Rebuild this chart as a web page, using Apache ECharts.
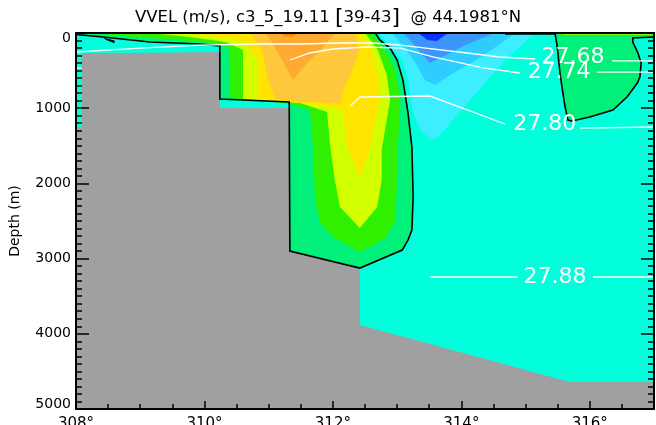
<!DOCTYPE html>
<html><head><meta charset="utf-8">
<script src="https://cdn.jsdelivr.net/npm/echarts@6/dist/echarts.min.js"></script>
<style>html,body{margin:0;padding:0;background:#fff}#c{width:656px;height:425px}</style>
</head><body><div id="c"></div>
<script>
// ---------- axes ----------
const lonRange = [308, 317];
const depthRange = [0, 5000];
const lonStep = 2;
const depthStep = 1000;

// ---------- bathymetry (lon, depth m) ----------
const land = [[308.00,5000],[308.00,1250],[308.09,1250],[308.09,266],[309.15,262],[310.24,253],[310.24,998],[311.33,998],[311.33,2900],[312.42,3130],[312.42,3884],[315.69,4642],[317.00,4642],[317.00,5000]];

// ---------- velocity band polygons (lon, depth m), value >= / <= level ----------
const oceanBox = [[308,0],[317,0],[317,5000],[308,5000]];           // 0 .. -0.01 m/s
const velP000 = [[308.00,20],[308.42,53],[309.15,120],[309.93,146],[310.24,173],[310.24,878],[311.32,918],[311.33,2899],[312.42,3126],[313.08,2886],[313.17,2753],[313.23,2620],[313.25,2181],[313.23,1516],[313.17,1064],[313.09,625],[313.00,359],[312.89,200],[312.73,93],[312.66,0],[308.00,0]];
const velP000Lobe = [[315.46,27],[315.49,160],[315.54,559],[315.61,958],[315.66,1157],[315.72,1170],[316.00,1117],[316.36,1024],[316.58,851],[316.74,665],[316.78,585],[316.80,399],[316.75,266],[316.67,120],[316.67,66],[317.00,53],[317.00,0],[315.46,0]];
const velP000Strip = [[314.68,0],[315.46,0],[315.46,13],[314.68,13]];
const velP010 = [[308.30,0],[312.61,0],[312.81,226],[312.97,492],[313.05,891],[313.01,1556],[313.00,1955],[312.97,2487],[312.84,2713],[312.42,2913],[312.00,2713],[311.80,2527],[311.72,2181],[311.69,1516],[311.64,1024],[311.36,944],[310.40,865],[310.40,359],[310.37,186],[309.93,120],[309.15,66],[308.53,27]];
const velP010Top = [[315.52,0],[317.00,0],[317.00,40],[315.52,40]];
const velP020 = [[309.15,0],[312.50,0],[312.70,226],[312.84,559],[312.89,891],[312.76,1556],[312.76,1955],[312.69,2314],[312.42,2594],[312.11,2314],[312.03,1955],[311.96,1516],[311.91,1050],[311.49,930],[310.60,878],[310.60,226],[310.33,120],[309.78,53]];
const velP020Top = [[315.60,0],[317.00,0],[317.00,20],[315.60,20]];
const velP030 = [[309.78,0],[312.42,0],[312.61,226],[312.70,559],[312.73,891],[312.58,1516],[312.42,1915],[312.22,1516],[312.16,1024],[311.80,958],[310.82,878],[310.82,359],[310.63,120],[310.24,53],[309.78,13]];
const velP040 = [[310.71,0],[312.34,0],[312.42,226],[312.27,559],[312.16,758],[312.11,931],[311.49,918],[311.10,878],[310.99,625],[310.90,226]];
const velP050 = [[310.94,0],[312.03,0],[311.88,160],[311.57,426],[311.38,625],[311.21,359],[311.05,120]];
const velP060 = [[311.18,0],[311.49,0],[311.36,53],[311.24,40]];
const velN010 = [[312.71,0],[315.15,0],[314.68,359],[314.14,891],[313.67,1357],[313.54,1430],[313.36,1290],[313.25,1064],[313.17,625],[313.08,359],[312.94,226],[312.81,93]];
const velN020 = [[312.92,0],[314.84,0],[314.29,333],[313.82,559],[313.59,692],[313.43,625],[313.28,386],[313.12,200]];
const velN030 = [[313.09,0],[314.52,0],[314.06,160],[313.67,333],[313.51,399],[313.36,253],[313.20,93]];
const velN040 = [[313.33,0],[313.79,0],[313.62,106],[313.47,93]];

// ---------- zero-velocity contour ----------
const zeroMain = [[308.00,20],[308.42,53],[309.15,120],[309.93,146],[310.24,173],[310.24,878],[311.32,918],[311.33,2899],[312.42,3126],[313.08,2886],[313.17,2753],[313.23,2620],[313.25,2181],[313.23,1516],[313.17,1064],[313.09,625],[313.00,359],[312.89,200],[312.73,93],[312.66,0]];
const zeroTop = [[314.68,13],[315.46,13]];
const zeroLobe = [[315.46,13],[315.49,160],[315.54,559],[315.61,958],[315.66,1157],[315.72,1170],[316.00,1117],[316.36,1024],[316.58,851],[316.74,665],[316.78,585],[316.80,399],[316.75,266],[316.67,120],[316.67,66],[317.00,53]];
const zeroBlob = [[308.42,60],[308.60,100],[308.60,135],[308.46,90]];

// ---------- isopycnals (sigma) ----------
const sig2768 = [[[308.00,253],[309.00,200],[309.93,160],[310.87,146],[311.49,146],[312.11,133],[312.62,133],[313.05,160],[314.09,266],[314.60,319],[315.15,346]],[[316.35,372],[317,372]]];
const sig2774 = [[[308.00,465],[308.09,465]],[[311.33,359],[311.64,266],[312.00,213],[312.53,186],[313.05,200],[313.56,319],[314.34,465],[314.91,532]],[[316.11,519],[317,519]]];
const sig2780 = [[[312.27,971],[312.42,851],[313.51,838],[314.68,1210]],[[315.85,1264],[317,1250]]];
const sig2788 = [[[313.51,3245],[314.87,3245]],[[316.05,3245],[317,3245]]];
const sigLabels = [['27.68',315.74,319],['27.74',315.52,519],['27.80',315.30,1210],['27.88',315.46,3245]];

// ---------- styles ----------
const bandColors = {'-0.04':'#0A32FF','-0.03':'#3C94FF','-0.02':'#2ECCFF','-0.01':'#3CEEFF','-0.005':'#00FFDA',
  '0':'#00F07A','0.01':'#2EF000','0.02':'#D2FF00','0.03':'#FFE400','0.04':'#FFC83C','0.05':'#FFAA33','0.06':'#FF8A00'};
const fills = [
  [-0.005, oceanBox],
  [0, velP000],[0, velP000Lobe],[0, velP000Strip],
  [0.01, velP010],[0.01, velP010Top],
  [0.02, velP020],[0.02, velP020Top],
  [0.03, velP030],[0.04, velP040],[0.05, velP050],[0.06, velP060],
  [-0.01, velN010],[-0.02, velN020],[-0.03, velN030],[-0.04, velN040]
];
const sigLines = [].concat(sig2768, sig2774, sig2780, sig2788);

function polySeries(list, z, styleFn, shape) {
  return {
    type: 'custom', coordinateSystem: 'cartesian2d', clip: true, silent: true, z: z,
    data: list.map((it, i) => [it.pts[0][0], it.pts[0][1], i]),
    encode: {x: 0, y: 1},
    renderItem: (params, api) => {
      const it = list[params.dataIndex];
      return {type: shape, shape: {points: it.pts.map(p => api.coord(p))}, style: styleFn(it)};
    }
  };
}

const fillItems = fills.map(f => ({lvl: f[0], pts: f[1]}));
const landItems = [{pts: land}];
const blackLines = [zeroMain, zeroTop, zeroLobe].map(p => ({pts: p}));
const blobItems = [{pts: zeroBlob}];
const whiteItems = sigLines.map(p => ({pts: p}));

const axisLine = {onZero: false, lineStyle: {color: '#000', width: 2}};
const tickStyle = {color: '#000', width: 1.5};
const FONT = 'DejaVu Sans';

const option = {
  animation: false,
  backgroundColor: '#fff',
  title: {
    text: 'VVEL (m/s), c3_5_19.11 {b|[}39-43{b|]}  @ 44.1981°N',
    left: 'center', top: 2,
    textStyle: {fontSize: 16.5, fontWeight: 'normal', color: '#000', fontFamily: FONT,
      rich: {b: {fontSize: 22, color: '#000', fontFamily: FONT}}}
  },
  grid: {left: 76, right: 2, top: 33, bottom: 16, containLabel: false, outerBoundsMode: 'none'},
  xAxis: [
    {type: 'value', min: lonRange[0], max: lonRange[1], interval: lonStep, position: 'bottom', z: 10,
     axisLine: axisLine, axisTick: {inside: true, length: 8, lineStyle: tickStyle},
     minorTick: {show: true, splitNumber: 4, length: 5, lineStyle: tickStyle},
     splitLine: {show: false}, minorSplitLine: {show: false},
     axisLabel: {formatter: v => (v === lonRange[1] ? '' : v + '°'), margin: 8, fontSize: 15, color: '#000', fontFamily: FONT, showMaxLabel: false}},
    {type: 'value', min: lonRange[0], max: lonRange[1], position: 'top', z: 10,
     axisLine: axisLine, axisTick: {show: false}, axisLabel: {show: false}, splitLine: {show: false}}
  ],
  yAxis: [
    {type: 'value', inverse: true, min: depthRange[0], max: depthRange[1], interval: depthStep, position: 'left', z: 10,
     axisLine: axisLine, axisTick: {inside: true, length: 13, lineStyle: tickStyle},
     minorTick: {show: true, splitNumber: 10, length: 6, lineStyle: tickStyle},
     splitLine: {show: false}, minorSplitLine: {show: false},
     axisLabel: {margin: 5, fontSize: 14, color: '#000', fontFamily: FONT,
       formatter: v => (v === depthRange[0] ? '{t|' + v + '}' : v === depthRange[1] ? '{b|' + v + '}' : String(v)),
       rich: {t: {padding: [10, 0, 0, 0], fontSize: 14, fontFamily: FONT, color: '#000'},
              b: {padding: [0, 0, 10, 0], fontSize: 14, fontFamily: FONT, color: '#000'}}},
     name: 'Depth (m)', nameLocation: 'middle', nameGap: 54, nameRotate: 90,
     nameTextStyle: {fontSize: 14, color: '#000', fontFamily: FONT}},
    {type: 'value', inverse: true, min: depthRange[0], max: depthRange[1], interval: depthStep, position: 'right', z: 10,
     axisLine: axisLine, axisTick: {inside: true, length: 13, lineStyle: tickStyle},
     minorTick: {show: true, splitNumber: 10, length: 6, lineStyle: tickStyle},
     splitLine: {show: false}, minorSplitLine: {show: false}, axisLabel: {show: false}}
  ],
  series: [
    polySeries(fillItems, 1, it => ({fill: bandColors[String(it.lvl)]}), 'polygon'),
    polySeries(landItems, 2, () => ({fill: '#A0A0A0'}), 'polygon'),
    polySeries(blackLines, 3, () => ({fill: null, stroke: '#000', lineWidth: 1.6}), 'polyline'),
    polySeries(blobItems, 3, () => ({fill: '#000'}), 'polygon'),
    polySeries(whiteItems, 4, () => ({fill: null, stroke: '#fff', lineWidth: 1.3}), 'polyline'),
    {
      type: 'custom', coordinateSystem: 'cartesian2d', clip: true, silent: true, z: 5,
      data: sigLabels.map(l => [l[1], l[2]]),
      renderItem: (params, api) => {
        const l = sigLabels[params.dataIndex];
        const p = api.coord([l[1], l[2]]);
        return {type: 'text', x: p[0], y: p[1],
          style: {text: l[0], fill: '#fff', fontSize: 22, fontFamily: FONT, align: 'center', verticalAlign: 'middle'}};
      }
    }
  ]
};
const chart = echarts.init(document.getElementById('c'), null, {renderer: 'canvas'});
chart.setOption(option);
</script></body></html>
